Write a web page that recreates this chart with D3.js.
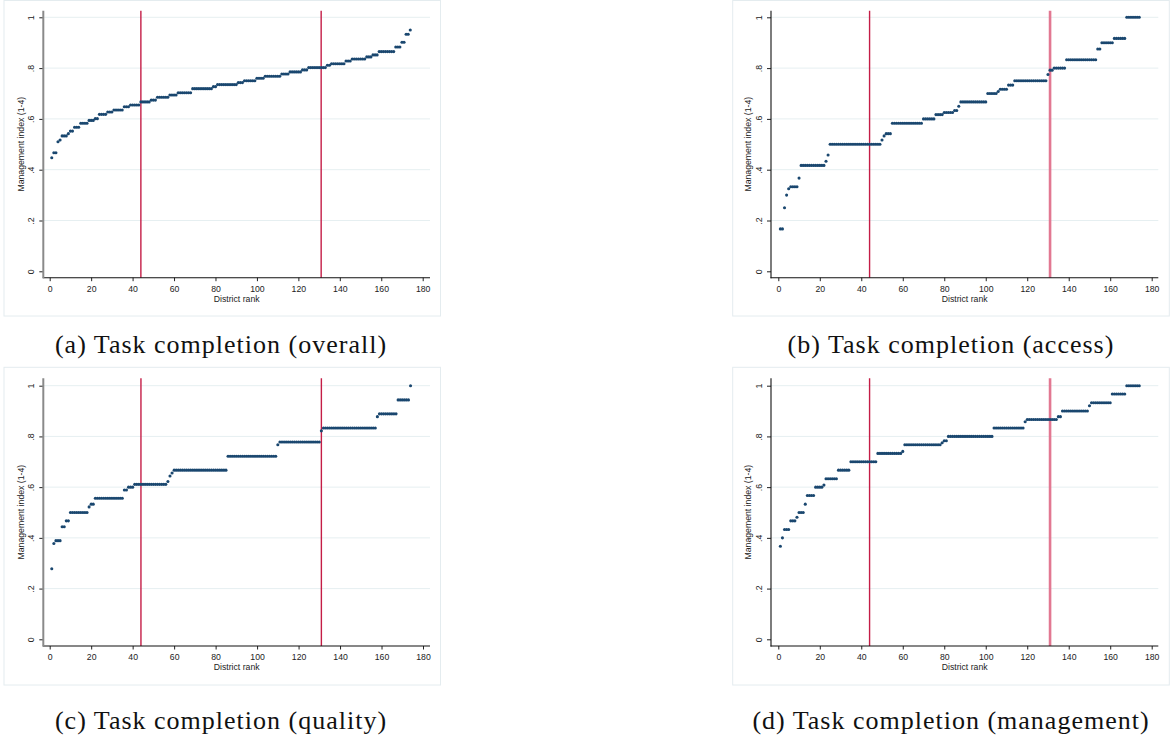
<!DOCTYPE html>
<html lang="en">
<head>
<meta charset="UTF-8">
<title>Task completion by district rank</title>
<script src="https://cdn.jsdelivr.net/npm/d3@7"></script>
<style>
    body { margin: 0; background: #fff; }
    svg { display: block; }
    .tick text { font-family: "Liberation Sans", Arial, sans-serif; font-size: 8.7px; fill: #222; }
    .axis-title { font-family: "Liberation Sans", Arial, sans-serif; font-size: 8.7px; fill: #222; }
    .caption { font-family: "Liberation Serif", "Times New Roman", serif; font-size: 26px; fill: #111; letter-spacing: 1px; }
</style>
</head>
<body>
<script>
// management index by district rank (1..174)
var overall = [
    .447,.467,.467,.510,.517,.533,.533,.533,.542,.552,
    .552,.567,.567,.567,.583,.583,.583,.583,.594,.594,
    .594,.601,.601,.618,.618,.618,.618,.627,.627,.627,
    .635,.635,.635,.635,.635,.648,.648,.648,.655,.655,
    .655,.655,.655,.667,.667,.667,.667,.667,.674,.674,
    .674,.685,.685,.685,.685,.685,.685,.694,.694,.694,
    .694,.703,.703,.703,.703,.703,.703,.703,.719,.719,
    .719,.719,.719,.719,.719,.719,.719,.719,.727,.727,
    .735,.735,.735,.735,.735,.735,.735,.735,.735,.735,
    .743,.743,.743,.750,.750,.750,.750,.750,.750,.760,
    .760,.760,.760,.768,.768,.768,.768,.768,.768,.768,
    .768,.777,.777,.777,.777,.785,.785,.785,.785,.785,
    .785,.793,.793,.793,.802,.802,.802,.802,.802,.802,
    .802,.802,.802,.811,.811,.817,.817,.817,.817,.817,
    .817,.817,.828,.828,.828,.836,.836,.836,.836,.836,
    .836,.836,.844,.844,.844,.852,.852,.852,.865,.865,
    .865,.865,.865,.865,.865,.865,.883,.883,.883,.902,
    .902,.933,.933,.950
];
var access = [
    .167,.167,.250,.300,.325,.333,.333,.333,.333,.367,
    .417,.417,.417,.417,.417,.417,.417,.417,.417,.417,
    .417,.417,.433,.458,.500,.500,.500,.500,.500,.500,
    .500,.500,.500,.500,.500,.500,.500,.500,.500,.500,
    .500,.500,.500,.500,.500,.500,.500,.500,.500,.517,
    .533,.542,.542,.542,.583,.583,.583,.583,.583,.583,
    .583,.583,.583,.583,.583,.583,.583,.583,.583,.600,
    .600,.600,.600,.600,.600,.617,.617,.617,.617,.625,
    .625,.625,.625,.625,.633,.633,.650,.667,.667,.667,
    .667,.667,.667,.667,.667,.667,.667,.667,.667,.667,
    .700,.700,.700,.700,.700,.708,.717,.717,.717,.717,
    .733,.733,.733,.750,.750,.750,.750,.750,.750,.750,
    .750,.750,.750,.750,.750,.750,.750,.750,.750,.775,
    .792,.792,.800,.800,.800,.800,.800,.800,.833,.833,
    .833,.833,.833,.833,.833,.833,.833,.833,.833,.833,
    .833,.833,.833,.875,.875,.900,.900,.900,.900,.900,
    .900,.917,.917,.917,.917,.917,.917,1,1,1,
    1,1,1,1
];
var quality = [
    .278,.378,.389,.389,.389,.444,.444,.467,.467,.500,
    .500,.500,.500,.500,.500,.500,.500,.500,.522,.533,
    .533,.556,.556,.556,.556,.556,.556,.556,.556,.556,
    .556,.556,.556,.556,.556,.589,.589,.600,.600,.600,
    .611,.611,.611,.611,.611,.611,.611,.611,.611,.611,
    .611,.611,.611,.611,.611,.611,.622,.644,.656,.667,
    .667,.667,.667,.667,.667,.667,.667,.667,.667,.667,
    .667,.667,.667,.667,.667,.667,.667,.667,.667,.667,
    .667,.667,.667,.667,.667,.722,.722,.722,.722,.722,
    .722,.722,.722,.722,.722,.722,.722,.722,.722,.722,
    .722,.722,.722,.722,.722,.722,.722,.722,.722,.767,
    .778,.778,.778,.778,.778,.778,.778,.778,.778,.778,
    .778,.778,.778,.778,.778,.778,.778,.778,.778,.778,
    .822,.833,.833,.833,.833,.833,.833,.833,.833,.833,
    .833,.833,.833,.833,.833,.833,.833,.833,.833,.833,
    .833,.833,.833,.833,.833,.833,.833,.878,.889,.889,
    .889,.889,.889,.889,.889,.889,.889,.944,.944,.944,
    .944,.944,.944,1
];
var management = [
    .367,.400,.433,.433,.433,.467,.467,.467,.481,.500,
    .500,.500,.533,.567,.567,.567,.567,.600,.600,.600,
    .600,.608,.633,.633,.633,.633,.633,.633,.667,.667,
    .667,.667,.667,.667,.700,.700,.700,.700,.700,.700,
    .700,.700,.700,.700,.700,.700,.700,.733,.733,.733,
    .733,.733,.733,.733,.733,.733,.733,.733,.733,.741,
    .767,.767,.767,.767,.767,.767,.767,.767,.767,.767,
    .767,.767,.767,.767,.767,.767,.767,.767,.775,.783,
    .783,.800,.800,.800,.800,.800,.800,.800,.800,.800,
    .800,.800,.800,.800,.800,.800,.800,.800,.800,.800,
    .800,.800,.800,.833,.833,.833,.833,.833,.833,.833,
    .833,.833,.833,.833,.833,.833,.833,.833,.858,.867,
    .867,.867,.867,.867,.867,.867,.867,.867,.867,.867,
    .867,.867,.867,.867,.878,.878,.900,.900,.900,.900,
    .900,.900,.900,.900,.900,.900,.900,.900,.900,.921,
    .933,.933,.933,.933,.933,.933,.933,.933,.933,.933,
    .967,.967,.967,.967,.967,.967,.967,1,1,1,
    1,1,1,1
];
var captions = ["(a) Task completion (overall)", "(b) Task completion (access)",
    "(c) Task completion (quality)", "(d) Task completion (management)"];
var cutoffs = [44, 131];
var xTicks = [0, 20, 40, 60, 80, 100, 120, 140, 160, 180];
var yTicks = [0, .2, .4, .6, .8, 1];
var yTickLabels = ["0", ".2", ".4", ".6", ".8", "1"];
var xTitle = "District rank";
var yTitle = "Management index (1-4)";

var W = 1173, H = 736;
var navy = "#1a476f", red = "#c41d46", pink = "#e27892";

// layout of the four panels
var panels = [
    { data: overall, frame: [4, 0.5, 440.5, 316], plot: [43.3, 10.7, 430, 277.7],
      xr: [49.7, 422.7], yr: [271.3, 17.3], cap: [221, 353],
      lines: [[red, 1.4], [red, 1.4]], yAxis: ["#8a8a8a", 2] },
    { data: access, frame: [732.7, 0.5, 1169.3, 316], plot: [771, 10.7, 1158.3, 277.7],
      xr: [778.3, 1151.7], yr: [271.3, 17.3], cap: [951, 353],
      lines: [[red, 1.4], [pink, 2.6]], yAxis: ["#111", 1.1] },
    { data: quality, frame: [4, 367.3, 440.5, 685], plot: [43.3, 378.3, 430, 646],
      xr: [49.7, 423], yr: [639.3, 385.7], cap: [221, 729],
      lines: [[red, 1.4], [red, 1.4]], yAxis: ["#8a8a8a", 2] },
    { data: management, frame: [732.7, 367.3, 1169.3, 685], plot: [771, 378.3, 1158.3, 646],
      xr: [778.3, 1151.7], yr: [639.3, 385.7], cap: [951, 729],
      lines: [[red, 1.4], [pink, 2.6]], yAxis: ["#111", 1.1] }
];

var svg = d3.select("body").append("svg")
    .attr("width", W)
    .attr("height", H);

panels.forEach(function (p, i) {
    var g = svg.append("g");
    var left = p.plot[0], top = p.plot[1], right = p.plot[2], bottom = p.plot[3];
    var x = d3.scaleLinear().domain([0, 180]).range(p.xr);
    var y = d3.scaleLinear().domain([0, 1]).range(p.yr);

    // outer frame
    g.append("rect")
        .attr("x", p.frame[0]).attr("y", p.frame[1])
        .attr("width", p.frame[2] - p.frame[0])
        .attr("height", p.frame[3] - p.frame[1])
        .attr("fill", "none")
        .attr("stroke", "#e4ecef")
        .attr("stroke-width", 1);

    // gridlines
    g.selectAll("line.grid")
        .data(yTicks.filter(function (d) { return d > 0; }))
        .enter().append("line")
        .attr("class", "grid")
        .attr("x1", left).attr("x2", right)
        .attr("y1", function (d) { return y(d); })
        .attr("y2", function (d) { return y(d); })
        .attr("stroke", "#e6eff1")
        .attr("stroke-width", 1);

    // cutoff lines
    g.selectAll("line.cut")
        .data(cutoffs)
        .enter().append("line")
        .attr("class", "cut")
        .attr("x1", function (d) { return x(d); })
        .attr("x2", function (d) { return x(d); })
        .attr("y1", top).attr("y2", bottom)
        .attr("stroke", function (d, j) { return p.lines[j][0]; })
        .attr("stroke-width", function (d, j) { return p.lines[j][1]; });

    // points
    g.selectAll("circle")
        .data(p.data)
        .enter().append("circle")
        .attr("cx", function (d, j) { return x(j + 1); })
        .attr("cy", function (d) { return y(d); })
        .attr("r", 1.55)
        .attr("fill", navy);

    // x axis
    var xa = g.append("g")
        .attr("transform", "translate(0," + bottom + ")")
        .call(d3.axisBottom(x).tickValues(xTicks).tickSize(3.5).tickPadding(2));
    xa.select(".domain").remove();
    xa.selectAll(".tick line").attr("stroke", "#222");
    xa.selectAll(".tick text").attr("dy", 0).attr("y", 14.3);
    g.append("line")
        .attr("x1", left - 0.5).attr("x2", right)
        .attr("y1", bottom).attr("y2", bottom)
        .attr("stroke", "#111").attr("stroke-width", 1.1);
    g.append("text")
        .attr("class", "axis-title")
        .attr("x", (left + right) / 2)
        .attr("y", bottom + 24.3)
        .attr("text-anchor", "middle")
        .text(xTitle);

    // y axis
    var ya = g.append("g")
        .attr("transform", "translate(" + left + ",0)")
        .call(d3.axisLeft(y).tickValues(yTicks).tickSize(4)
            .tickFormat(function (d, j) { return yTickLabels[j]; }));
    ya.select(".domain").remove();
    ya.selectAll(".tick line").attr("stroke", "#222");
    ya.selectAll(".tick text")
        .attr("transform", "rotate(-90)")
        .attr("x", 0).attr("y", -9.3).attr("dy", 0)
        .attr("text-anchor", "middle");
    g.append("line")
        .attr("x1", left).attr("x2", left)
        .attr("y1", top).attr("y2", bottom + 0.5)
        .attr("stroke", p.yAxis[0]).attr("stroke-width", p.yAxis[1]);
    g.append("text")
        .attr("class", "axis-title")
        .attr("transform", "translate(" + (left - 19.8) + "," + ((top + bottom) / 2) + ") rotate(-90)")
        .attr("text-anchor", "middle")
        .text(yTitle);

    // caption
    svg.append("text")
        .attr("class", "caption")
        .attr("x", p.cap[0]).attr("y", p.cap[1])
        .attr("text-anchor", "middle")
        .text(captions[i]);
});
</script>
</body>
</html>
